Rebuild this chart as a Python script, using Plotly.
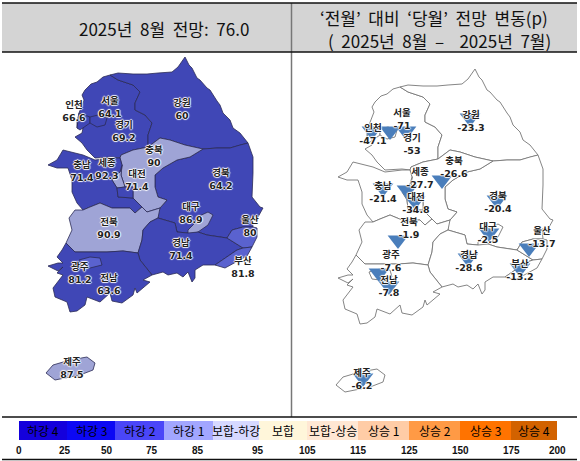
import plotly.graph_objects as go
from plotly.subplots import make_subplots

# values
regions = ["서울", "인천", "경기", "강원", "충북", "세종", "충남", "대전", "경북",
           "대구", "전북", "울산", "경남", "부산", "광주", "전남", "제주"]
outlook = [64.1, 66.6, 69.2, 60, 90, 92.3, 71.4, 71.4, 64.2,
           86.9, 90.9, 80, 71.4, 81.8, 81.2, 63.6, 87.5]
change = [-71, -47.1, -53, -23.3, -26.6, -27.7, -21.4, -34.8, -20.4,
          -2.5, -1.9, -13.7, -28.6, -13.2, -7.6, -7.8, -6.2]

legend_labels = ["하강 4", "하강 3", "하강 2", "하강 1", "보합-하강", "보합",
                 "보합-상승", "상승 1", "상승 2", "상승 3", "상승 4"]
legend_ticks = ["0", "25", "50", "75", "85", "95", "105", "115", "125", "150", "175", "200"]
legend_colors = ["#1400dc", "#0c08f4", "#4a46f8", "#a2a6ff", "#d6d8ff", "#fff6da",
                 "#ffe7d3", "#ffcca6", "#ff9a45", "#ff7300", "#d26200"]

# province outlines, traced by eye (map units)
gyeonggi = [(110, 75), (103, 77), (97, 82), (91, 84), (85, 90), (82, 95), (84, 100), (82, 105), (79, 113), (77, 122),
            (77, 128), (83, 128), (82, 133), (75, 137), (82, 143), (87, 150), (95, 158), (112, 157), (120, 158),
            (121, 155), (133, 150), (148, 147), (148, 135), (152, 123), (145, 115), (135, 110), (135, 103), (140, 92),
            (133, 85), (118, 80)]
incheon = [(79, 113), (90, 117), (90, 123), (80, 130), (77, 128)]
seoul = [(90, 117), (98, 115), (107, 118), (105, 125), (97, 127), (90, 123)]
gangwon = [(110, 75), (118, 73), (133, 74), (147, 74), (158, 73), (172, 72), (178, 67), (185, 57), (189, 65), (192, 68),
           (197, 78), (200, 80), (207, 88), (210, 90), (217, 101), (220, 105), (223, 113), (230, 120), (233, 128),
           (240, 133), (248, 143), (240, 145), (230, 148), (217, 148), (203, 149), (185, 145), (170, 140), (160, 138),
           (148, 147), (148, 135), (152, 123), (145, 115), (135, 110), (135, 103), (140, 92), (133, 85), (118, 80)]
chungbuk = [(121, 155), (133, 150), (148, 147), (160, 138), (170, 140), (185, 145), (203, 149), (190, 157),
            (177, 160), (163, 168), (155, 175), (155, 187), (158, 197), (167, 200), (160, 208), (147, 212),
            (142, 207), (133, 198), (133, 187), (125, 187), (121, 175), (122, 165), (120, 158)]
sejong = [(122, 165), (120, 172), (112, 180), (117, 188), (125, 187), (121, 175)]
chungnam = [(63, 150), (83, 155), (95, 160), (112, 158), (120, 158), (122, 165), (120, 172), (112, 180), (117, 188),
            (118, 197), (133, 198), (142, 207), (135, 213), (130, 208), (112, 208), (100, 203), (90, 207), (83, 210),
            (77, 203), (72, 192), (72, 180), (68, 168), (57, 168), (48, 165), (57, 160), (60, 155)]
daejeon = [(117, 188), (125, 187), (133, 187), (133, 198), (118, 197)]
gyeongbuk = [(248, 143), (253, 157), (253, 173), (252, 197), (260, 207), (263, 208), (258, 217), (252, 217),
             (253, 227), (243, 227), (232, 230), (227, 238), (207, 235), (198, 232), (188, 233), (177, 232),
             (175, 223), (158, 218), (158, 212), (160, 208), (167, 200), (158, 197), (155, 187), (155, 175),
             (163, 168), (177, 160), (190, 157), (203, 149), (217, 148), (230, 148), (240, 145)]
daegu = [(197, 217), (208, 212), (213, 215), (208, 225), (198, 232), (188, 235), (188, 230), (195, 223)]
jeonbuk = [(75, 210), (83, 210), (90, 207), (100, 203), (112, 208), (130, 208), (135, 213), (142, 207), (147, 212),
           (160, 208), (158, 218), (150, 222), (143, 230), (142, 240), (138, 253), (123, 251), (107, 252),
           (90, 252), (75, 252), (66, 243), (72, 230), (69, 218)]
ulsan = [(227, 238), (232, 230), (243, 227), (253, 227), (257, 228), (257, 237), (252, 247), (243, 248), (235, 243)]
gyeongnam = [(138, 253), (140, 260), (152, 275), (163, 272), (168, 275), (177, 273), (183, 277), (188, 272), (192, 282),
             (195, 278), (195, 270), (203, 265), (215, 265), (227, 257), (237, 250), (243, 248), (235, 243), (227, 238),
             (207, 235), (198, 232), (188, 233), (177, 232), (175, 223), (158, 218), (150, 222), (143, 230), (142, 240)]
busan = [(215, 265), (227, 257), (237, 250), (243, 248), (252, 247), (247, 256), (240, 260), (225, 268)]
jeonnam = [(66, 243), (62, 250), (57, 257), (63, 263), (58, 263), (48, 266), (58, 271), (63, 267), (57, 273),
           (63, 275), (53, 288), (55, 297), (67, 302), (70, 312), (77, 311), (85, 305), (87, 297), (100, 302), (110, 293),
           (112, 301), (122, 303), (133, 295), (135, 288), (137, 293), (150, 282), (143, 280), (152, 275),
           (140, 260), (138, 253), (123, 251), (107, 252), (90, 252), (75, 252)]
gwangju = [(79, 260), (90, 257), (100, 258), (102, 265), (90, 268), (82, 267)]
jeju = [(46, 373), (53, 365), (70, 360), (87, 357), (95, 363), (93, 370), (80, 375), (55, 380)]

# painted in this order, small ones go on top
outlines = [("경기", gyeonggi), ("인천", incheon), ("서울", seoul), ("강원", gangwon), ("경북", gyeongbuk),
            ("충북", chungbuk), ("세종", sejong), ("충남", chungnam), ("대전", daejeon), ("대구", daegu),
            ("전북", jeonbuk), ("경남", gyeongnam), ("울산", ulsan), ("부산", busan), ("전남", jeonnam),
            ("광주", gwangju), ("제주", jeju)]

# label and arrow anchors, same order as regions
label_x = [110, 74, 124, 182, 154, 107, 82, 137, 221, 191, 109, 250, 181, 243, 80, 109, 72]
label_y = [108, 112, 132, 110, 157, 170, 172, 181, 180, 214, 229, 227, 250, 268, 274, 285, 369]
change_x = [112, 83, 122, 181, 164, 130, 93, 126, 208, 198, 119, 252, 179, 230, 101, 99, 72]
change_y = [108, 123, 133, 110, 156, 167, 181, 192, 191, 222, 217, 226, 250, 259, 250, 275, 368]
arrow_x = [100, 82, 116, 180, 152, 117, 93, 125, 207, 199, 108, 239, 178, 230, 89, 99, 73]
arrow_y = [119, 119, 119, 106, 168, 178, 176, 189, 188, 221, 228, 236, 246, 256, 261, 274, 366]

legend_edges = [19, 67, 115, 164, 213, 259, 307, 358, 409, 460, 511, 557]
tick_pos = [19, 65, 107, 152, 198, 258, 307, 358, 409, 460, 511, 557]

W, H = 580, 461
KR = "Noto Sans CJK KR"
LABEL = "DejaVu Sans, Noto Sans CJK KR"
HALO = "1px 0 1px #fff, -1px 0 1px #fff, 0 1px 1px #fff, 0 -1px 1px #fff"
NB = "\u00a0"


def class_color(v):
    if v < 75:
        return "#4047b6"
    if v < 85:
        return "#5a62cf"
    return "#9fa4d6"


fig = make_subplots(rows=1, cols=2, horizontal_spacing=0)
colors = dict(zip(regions, outlook))

for name, pts in outlines:
    xs = [p[0] for p in pts] + [pts[0][0]]
    ys = [p[1] for p in pts] + [pts[0][1]]
    fig.add_trace(go.Scatter(x=xs, y=ys, mode="lines", fill="toself", hoverinfo="skip",
                             fillcolor=class_color(colors[name]), line=dict(color="#2b2b55", width=0.8)),
                  row=1, col=1)
    fig.add_trace(go.Scatter(x=xs, y=ys, mode="lines", fill="toself", hoverinfo="skip",
                             fillcolor="white", line=dict(color="#777777", width=0.9)),
                  row=1, col=2)

fig.add_trace(go.Scatter(x=label_x, y=label_y, mode="text", cliponaxis=False,
                         text=[f"{r}<br>{v:g}" for r, v in zip(regions, outlook)],
                         textfont=dict(family=LABEL, size=9.5, color="#222222", weight="bold", shadow=HALO)),
              row=1, col=1)
fig.add_trace(go.Scatter(x=arrow_x, y=arrow_y, mode="markers",
                         marker=dict(symbol="triangle-down", size=18, color="#4a7ebb")),
              row=1, col=2)
fig.add_trace(go.Scatter(x=change_x, y=change_y, mode="text", cliponaxis=False,
                         text=[f"{r}<br>{v:g}" for r, v in zip(regions, change)],
                         textfont=dict(family=LABEL, size=9.5, color="#222222", weight="bold", shadow=HALO)),
              row=1, col=2)

# right map sits 12 units lower in its panel
fig.update_xaxes(range=[0, 290], visible=False)
fig.update_yaxes(visible=False)
fig.update_yaxes(range=[461, 0], row=1, col=1)
fig.update_yaxes(range=[449, -12], row=1, col=2)


def px(x):
    return x / W


def py(y):
    return 1 - y / H


shapes = [
    dict(type="rect", x0=px(2), x1=px(577), y0=py(3), y1=py(52), fillcolor="#d4d4d4", line_width=0, layer="below"),
    dict(type="line", x0=px(291.5), x1=px(291.5), y0=py(3), y1=py(417), line=dict(color="#777777", width=1.5)),
    dict(type="line", x0=px(2), x1=px(577), y0=py(3), y1=py(3), line=dict(color="#111111", width=1.5)),
    dict(type="line", x0=px(2), x1=px(577), y0=py(52), y1=py(52), line=dict(color="#111111", width=1.5)),
    dict(type="line", x0=px(2), x1=px(577), y0=py(417), y1=py(417), line=dict(color="#111111", width=1.5)),
    dict(type="line", x0=px(2), x1=px(577), y0=py(459.5), y1=py(459.5), line=dict(color="#111111", width=1.5)),
]
for i, c in enumerate(legend_colors):
    shapes.append(dict(type="rect", x0=px(legend_edges[i]), x1=px(legend_edges[i + 1]), y0=py(421), y1=py(440),
                       fillcolor=c, line_width=0))
for s in shapes:
    s.update(xref="paper", yref="paper")

title_left = f"2025년{NB}{NB}8월{NB}{NB}전망:{NB}{NB}76.0"
title_right_1 = f"‘전월’{NB}{NB}대비{NB}{NB}‘당월’{NB}{NB}전망{NB}{NB}변동(p)"
title_right_2 = f"({NB}{NB}2025년{NB}{NB}8월{NB}{NB}–{NB}{NB}{NB}{NB}2025년{NB}{NB}7월)"
annotations = [
    dict(x=px(164), y=py(28), text=title_left, font=dict(family=KR, size=17, color="#111111")),
    dict(x=px(434), y=py(18), text=title_right_1, font=dict(family=KR, size=17, color="#111111")),
    dict(x=px(439), y=py(40), text=title_right_2, font=dict(family=KR, size=17, color="#111111")),
]
for i, t in enumerate(legend_labels):
    annotations.append(dict(x=px((legend_edges[i] + legend_edges[i + 1]) / 2), y=py(430.5), text=t,
                            font=dict(family=KR, size=12, color="#000000")))
for t, p in zip(legend_ticks, tick_pos):
    annotations.append(dict(x=px(p), y=py(450), text=t,
                            font=dict(family="Liberation Sans", size=10, color="#111111", weight="bold")))
for a in annotations:
    a.update(xref="paper", yref="paper", showarrow=False, xanchor="center", yanchor="middle")

fig.update_layout(width=W, height=H, margin=dict(l=0, r=0, t=0, b=0), showlegend=False,
                  paper_bgcolor="white", plot_bgcolor="white", shapes=shapes, annotations=annotations)
fig.write_html("out.html", config={"displayModeBar": False},
               post_script="document.body.style.margin='0';")
